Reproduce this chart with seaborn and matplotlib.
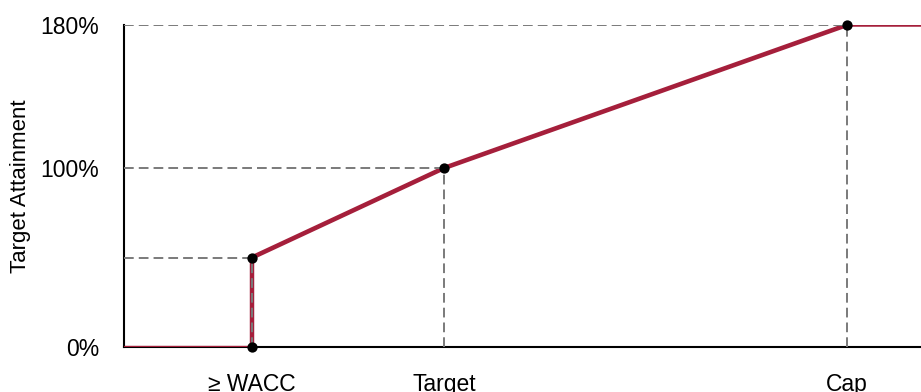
import matplotlib
matplotlib.use("Agg")
import matplotlib.pyplot as plt
import seaborn as sns
import pandas as pd

sns.set_theme(style="white")
plt.rcParams['font.family'] = ['Liberation Sans', 'DejaVu Sans']

# Data
x_labels = ["≥ WACC", "Target", "Cap"]
x_points = [1.0, 2.5, 5.65]          # threshold, target, cap positions
y_points = [50, 100, 180]            # attainment at those positions (%)
x_start, x_end = 0.0, 6.23
y_ticks = [0, 100, 180]
y_tick_labels = ["0%", "100%", "180%"]

red = "#A51F3B"
grey = "#7A7A7A"

fig = plt.figure(figsize=(9.21, 3.92), dpi=100)
ax = fig.add_axes([124/921, 45/392, 797/921, 322/392])

# flat zero segment
seg0 = pd.DataFrame({"x": [x_start, x_points[0]], "y": [0, 0]})
sns.lineplot(data=seg0, x="x", y="y", ax=ax, color=red, lw=2.4, zorder=3)
# vertical jump
seg1 = pd.DataFrame({"x": [x_points[0], x_points[0]], "y": [0, y_points[0]]})
sns.lineplot(data=seg1, x="x", y="y", ax=ax, color=red, lw=3.2, zorder=3, sort=False, estimator=None)
# rising segments
seg2 = pd.DataFrame({"x": x_points, "y": y_points})
sns.lineplot(data=seg2, x="x", y="y", ax=ax, color=red, lw=3.3, zorder=3)
# flat cap segment
seg3 = pd.DataFrame({"x": [x_points[2], x_end], "y": [y_points[2], y_points[2]]})
sns.lineplot(data=seg3, x="x", y="y", ax=ax, color=red, lw=1.8, zorder=3)

# dashed guides
for xp, yp in zip(x_points, y_points):
    ax.plot([x_start, xp], [yp, yp], ls=(0, (5, 2.6)), color=grey, lw=1.4, zorder=4)
    ax.plot([xp, xp], [0, yp], ls=(0, (5, 2.6)), color=grey, lw=1.4, zorder=4)

# markers
mk = pd.DataFrame({"x": [x_points[0]] + x_points, "y": [0] + y_points})
sns.scatterplot(data=mk, x="x", y="y", ax=ax, color="black", s=55, zorder=5,
                edgecolor="black", linewidth=0, clip_on=False)

ax.set_xlim(x_start, x_end)
ax.set_ylim(0, 180)
ax.set_yticks(y_ticks)
ax.set_yticklabels(y_tick_labels, fontsize=16.5)
ax.set_xticks(x_points)
ax.set_xticklabels(x_labels, fontsize=16.5)
ax.tick_params(axis="both", length=0, colors="black")
ax.tick_params(axis="x", pad=19)
ax.tick_params(axis="y", pad=18)
ax.set_xlabel("")
ax.set_ylabel("Target Attainment", fontsize=16, color="black", labelpad=6.5)

for s in ["top", "right"]:
    ax.spines[s].set_visible(False)
for s in ["left", "bottom"]:
    ax.spines[s].set_color("black")
    ax.spines[s].set_linewidth(1.5)

fig.savefig("out.png", dpi=100)
